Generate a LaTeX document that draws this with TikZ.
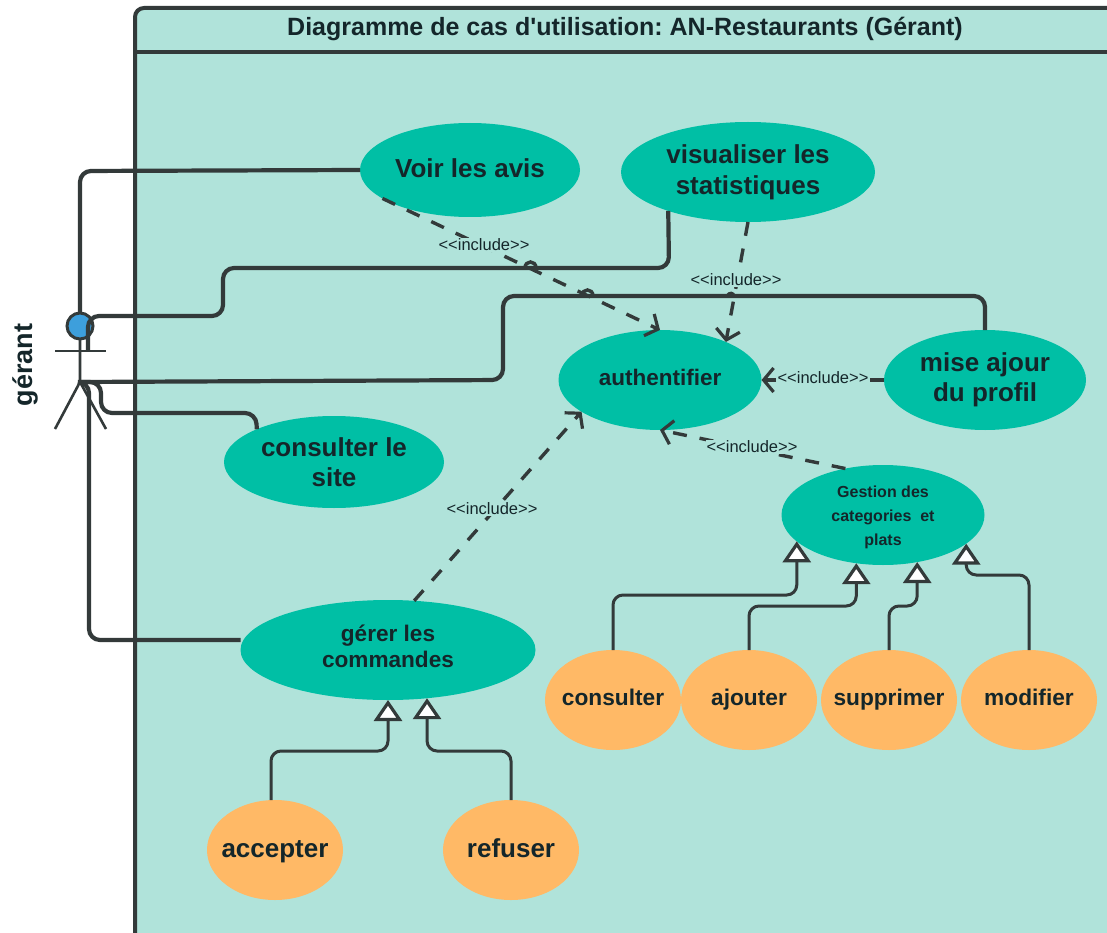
\documentclass[tikz,border=0pt]{standalone}
\usepackage{fontspec}
\setmainfont{Liberation Sans}
\newfontfamily\titlefont{Liberation Sans}
\usetikzlibrary{shapes.geometric,arrows.meta}
\frenchspacing
\definecolor{framebg}{HTML}{B0E3DA}
\definecolor{teal1}{HTML}{00BFA5}
\definecolor{orange1}{HTML}{FFB966}
\definecolor{ink}{HTML}{333A3A}
\definecolor{txt}{HTML}{14262A}
\definecolor{head}{HTML}{3D9FDC}
\newcommand{\tcen}[1]{\makebox[0pt][c]{#1}}
\newcommand{\incltext}{<{}<include>{}>}
\tikzset{
 uc/.style 2 args={ellipse,fill=teal1,inner sep=0pt,outer sep=0pt,align=center,text=txt,font=\bfseries\fontsize{#1}{#2}\selectfont},
 uo/.style={ellipse,fill=orange1,inner sep=0pt,outer sep=0pt,align=center,text=txt,minimum width=136pt,minimum height=100pt,text height=17pt,text depth=7pt,font=\bfseries\fontsize{#1}{30}\selectfont},
 assoc/.style={draw=ink,line width=4.2pt,rounded corners=11pt},
 hop/.style={draw=ink,line width=3.5pt},
 thin1/.style={draw=ink,line width=2.6pt},
 gen/.style={draw=ink,line width=3pt,rounded corners=10pt,-{Triangle[open,fill=white,length=21pt,width=28pt,line width=3.2pt]}},
 incl/.style={draw=ink,line width=3.4pt,dash pattern=on 14pt off 13pt,-{Straight Barb[length=10pt,width=24pt,line width=3.2pt]}},
 lab/.style={font=\fontsize{16.5}{18}\selectfont,text=txt,fill=framebg,inner sep=1pt},
}
\begin{document}
\begin{tikzpicture}[x=1pt,y=-1pt]
\useasboundingbox (0,0) rectangle (1107,933);
\clip (0,0) rectangle (1107,933);
\fill[white] (0,0) rectangle (1107,933);
\draw[ink,line width=4pt,fill=framebg,rounded corners=9pt] (135,960) -- (135,8) -- (1140,8) -- (1140,960) -- cycle;
\draw[ink,line width=4pt] (135,52) -- (1140,52);
\node[font=\titlefont\bfseries\fontsize{25}{28}\selectfont,text=txt,inner sep=0pt] (title) at (625,29) {Diagramme de cas d'utilisation: AN-Restaurants (Gérant)};
\node[font=\bfseries\fontsize{27}{30}\selectfont,text=txt,rotate=90,inner sep=0pt] (gname) at (25,365) {gérant};

% use cases
\node[uc={26}{30},minimum width=220pt,minimum height=94pt,text height=19pt,text depth=4pt] (voir) at (470,170) {Voir les avis};
\node[uc={26}{31},minimum width=254pt,minimum height=100pt] (vis) at (748,172) {visualiser les\\statistiques};
\node[uc={22.5}{30},minimum width=203pt,minimum height=100pt,text height=17pt,text depth=7pt] (auth) at (660,380) {authentifier};
\node[uc={26}{30},minimum width=202pt,minimum height=100pt] (maj) at (985,380) {mise ajour\\du profil};
\node[uc={26}{30},minimum width=220pt,minimum height=92pt] (site) at (334,462) {consulter le\\site};
\node[uc={16}{24},minimum width=203pt,minimum height=100pt] (gest) at (883,515) {\rule{0pt}{17pt}Gestion des\\categories~ et\\plats};
\node[uc={22.6}{26},minimum width=295pt,minimum height=100pt] (cmd) at (388,650) {gérer les\\commandes\\[-18pt]\mbox{}};
\node[uo=22.7] (cons) at (613,700) {\tcen{consulter}};
\node[uo=22.7] (ajou) at (749,700) {\tcen{ajouter}};
\node[uo=22.7] (supp) at (889,700) {\tcen{supprimer}};
\node[uo=22.7] (modi) at (1029,700) {\tcen{modifier}};
\node[uo=26,text height=20pt,text depth=6pt] (acce) at (275,850) {\tcen{accepter}};
\node[uo=26,text height=20pt,text depth=6pt] (refu) at (511,850) {\tcen{refuser}};

% actor
\node[circle,fill=head,draw=ink,line width=3pt,minimum size=26pt,inner sep=0pt,outer sep=0pt] (actor) at (80,326) {};
\coordinate (hip) at (80,382);
\coordinate (arml) at (55,351);
\coordinate (armr) at (106,351);
\coordinate (legl) at (55,429);
\coordinate (legr) at (106,429);
\coordinate (arma) at (88,351);
\draw[thin1] (actor.south) -- (hip) -- (legl);
\draw[thin1] (hip) -- (legr);
\draw[thin1] (arml) -- (armr);

% associations
\draw[assoc] (voir.west) -- (80,171) -- (actor.north);
\draw[assoc] (vis.206) -- (669,268) -- (223,268) -- (223,316) -- (88,316) -- (arma);
\draw[assoc] (maj.north) -- (985,296) -- (503,296) -- (503,380) -- (hip);
\draw[assoc] (site.157.4) -- (256,413) -- (101,413) -- (101,382) -- (hip);
\draw[assoc] (cmd.west |- 0,640) -- (89,640) -- (89,382) -- (hip);

% hops
\draw[hop] (525,268) .. controls (525,260) and (536,260) .. (536,268);
\draw[hop] (582,296) .. controls (582,288) and (593,288) .. (593,296);
\draw[hop] (727,296) .. controls (730,292) and (733,293) .. (734,296);

% generalisations
\draw[gen] (cons.north) -- (613,595) -| (gest.197.6);
\draw[gen] (ajou.north) -- (749,606) -| (gest.241.7);
\draw[gen] (supp.north) -- (889,606) -| (gest.306.7);
\draw[gen] (modi.north) -- (1029,575) -| (gest.341.7);
\draw[gen] (271,800) -- (271,751) -| (cmd.south);
\draw[gen] (refu.north) -- (511,751) -| (cmd.309);

% includes
\draw[incl] (voir.198.4) -- (auth.north);
\draw[incl] (vis.south) -- (auth.30.6);
\draw[incl] (maj.west) -- (auth.east);
\draw[incl] (gest.129.4) -- (auth.south);
\draw[incl] (cmd.62) -- (auth.202.2);
\node[lab] (l1) at (484,245) {\incltext};
\node[lab] (l2) at (736,280) {\incltext};
\node[lab] (l3) at (823,378) {\incltext};
\node[lab] (l4) at (752,447) {\incltext};
\node[lab] (l5) at (492,509) {\incltext};
\end{tikzpicture}
\end{document}
